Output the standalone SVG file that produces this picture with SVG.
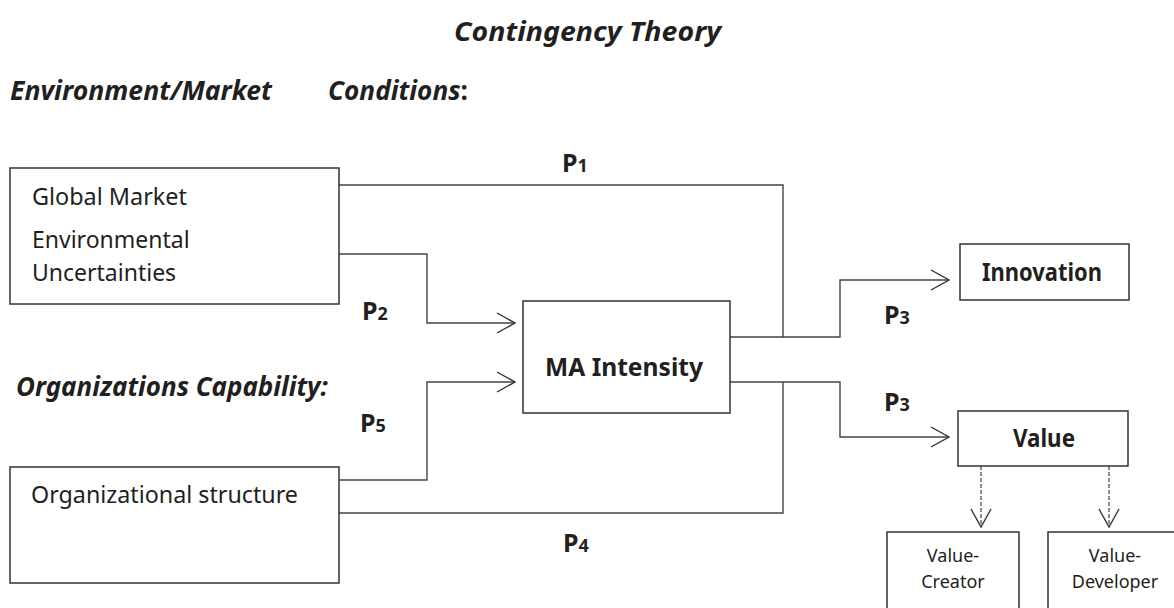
<svg xmlns="http://www.w3.org/2000/svg" width="1174" height="608" viewBox="0 0 1174 608">
<defs>
<style>
text{font-family:"Noto Sans","Open Sans",sans-serif;fill:#231f20}
.h{font-weight:bold;font-style:italic;font-size:26px}
.t{font-size:23px}
.b{font-weight:bold;font-size:25px}
.p{font-weight:bold;font-size:25px}
.p tspan{font-size:18px}
.s{font-size:18px}
.box{fill:#fff;stroke:#333;stroke-width:1.5}
.line{fill:none;stroke:#444;stroke-width:1.4}
.dash{fill:none;stroke:#444;stroke-width:1.2;stroke-dasharray:4 2}
</style>
<marker id="arr" viewBox="0 0 20 22" refX="19" refY="11" markerWidth="20" markerHeight="22" markerUnits="userSpaceOnUse" orient="auto">
<path d="M1,1 L19,11 L1,21" fill="none" stroke="#333" stroke-width="1.4"/>
</marker>
</defs>
<rect width="1174" height="608" fill="#fff"/>
<text class="h" x="454" y="41" font-size="29" textLength="267" lengthAdjust="spacingAndGlyphs">Contingency Theory</text>
<text class="h" x="10" y="100" textLength="262" lengthAdjust="spacingAndGlyphs">Environment/Market</text>
<text class="h" x="328" y="100" textLength="140" lengthAdjust="spacingAndGlyphs">Conditions<tspan font-style="normal">:</tspan></text>
<text class="h" x="16" y="396" textLength="312" lengthAdjust="spacingAndGlyphs">Organizations Capability:</text>

<g id="connectors">
<polyline class="line" points="339,185 783,185 783,337"/>
<polyline class="line" points="339,254 427,254 427,323 515,323" marker-end="url(#arr)"/>
<polyline class="line" points="339,480 427,480 427,382 515,382" marker-end="url(#arr)"/>
<polyline class="line" points="339,513 783,513 783,382"/>
<polyline class="line" points="730,337 840,337 840,280 949,280" marker-end="url(#arr)"/>
<polyline class="line" points="730,382 840,382 840,437 949,437" marker-end="url(#arr)"/>
<line class="dash" x1="981" y1="466" x2="981" y2="527" marker-end="url(#arr)"/>
<line class="dash" x1="1109" y1="466" x2="1109" y2="527" marker-end="url(#arr)"/>
<text class="p" x="562" y="172">P<tspan>1</tspan></text>
<text class="p" x="362" y="320">P<tspan>2</tspan></text>
<text class="p" x="884" y="324">P<tspan>3</tspan></text>
<text class="p" x="884" y="411">P<tspan>3</tspan></text>
<text class="p" x="563" y="552">P<tspan>4</tspan></text>
<text class="p" x="360" y="432">P<tspan>5</tspan></text>
</g>

<g id="global">
<rect class="box" x="10" y="168" width="329" height="136"/>
<text class="t" x="32" y="205" textLength="155" lengthAdjust="spacingAndGlyphs">Global Market</text>
<text class="t" x="32" y="248">Environmental</text>
<text class="t" x="32" y="281">Uncertainties</text>
</g>
<g id="org">
<rect class="box" x="10" y="467" width="329" height="116"/>
<text class="t" x="31" y="503" textLength="267" lengthAdjust="spacingAndGlyphs">Organizational structure</text>
</g>
<g id="ma">
<rect class="box" x="523" y="301" width="207" height="112" stroke-width="2.2"/>
<text class="b" x="545" y="376" textLength="158" lengthAdjust="spacingAndGlyphs">MA Intensity</text>
</g>
<g id="innovation">
<rect class="box" x="960" y="244" width="169" height="56"/>
<text class="b" x="982" y="281" font-size="21" textLength="120" lengthAdjust="spacingAndGlyphs">Innovation</text>
</g>
<g id="value">
<rect class="box" x="958" y="411" width="170" height="55"/>
<text class="b" x="1013" y="447" font-size="21" textLength="62" lengthAdjust="spacingAndGlyphs">Value</text>
</g>
<g id="creator">
<rect class="box" x="887" y="532" width="132" height="90"/>
<text class="s" x="953" y="562" text-anchor="middle">Value-</text>
<text class="s" x="953" y="588" text-anchor="middle">Creator</text>
</g>
<g id="developer">
<rect class="box" x="1048" y="532" width="140" height="90"/>
<text class="s" x="1115" y="562" text-anchor="middle">Value-</text>
<text class="s" x="1115" y="588" text-anchor="middle">Developer</text>
</g>
</svg>
